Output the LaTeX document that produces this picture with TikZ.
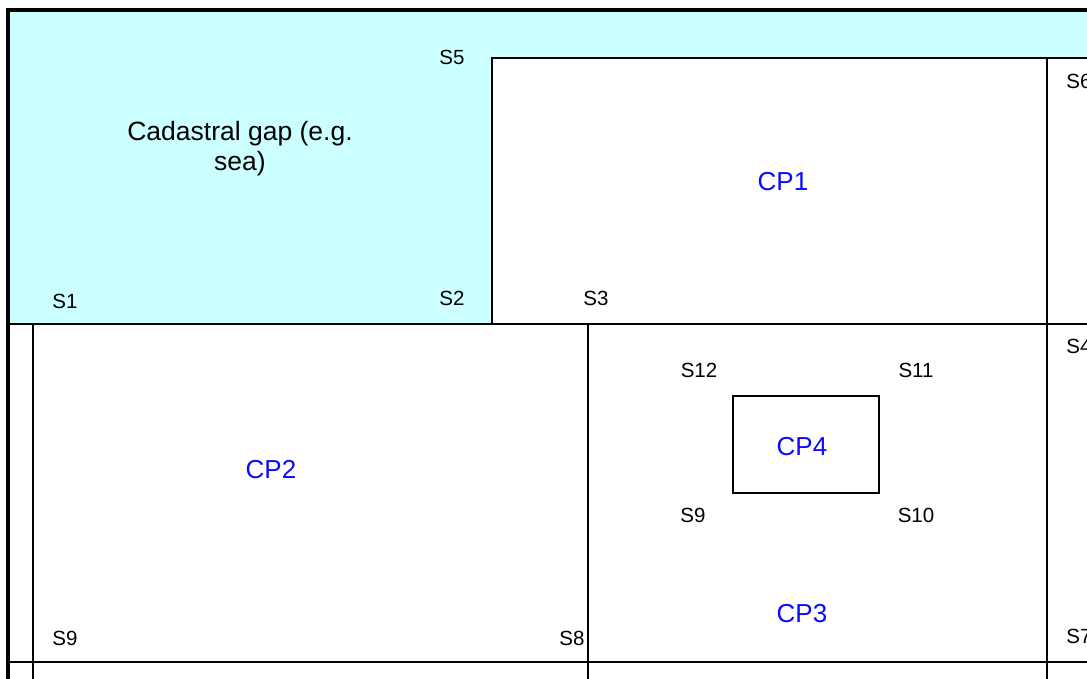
\documentclass[tikz,border=0pt]{standalone}
\usepackage{fontspec}
\setmainfont{Liberation Sans}
\usetikzlibrary{positioning}
\definecolor{gapcyan}{RGB}{204,255,255}
\definecolor{cpblue}{RGB}{10,10,255}

\begin{document}
\begin{tikzpicture}[x=1pt, y=-1pt, line width=2pt,
    slabel/.style={font=\fontsize{20.5}{24}\selectfont, inner sep=0pt},
    cplabel/.style={font=\fontsize{26}{30}\selectfont, text=cpblue, inner sep=0pt}]
    \useasboundingbox (0,0) rectangle (1087,679);
    \clip (0,0) rectangle (1087,679);
    % 地籍空隙(海),青色
    \fill[gapcyan] (10,12) -- (1087,12) -- (1087,58) -- (492,58) -- (492,324) -- (10,324) -- cycle;
    % 外框
    \draw[line width=4pt] (8,679) -- (8,10) -- (1087,10);
    % 地块边界
    \draw[line width=1.6pt] (492,324) -- (492,58) -- (1087,58);
    \draw (10,324) -- (1087,324);
    \draw (10,662) -- (1087,662);
    \draw (33,324) -- (33,679);
    \draw (588,324) -- (588,679);
    \draw (1047,58) -- (1047,679);
    % 内部地块 CP4
    \draw (733,396) rectangle (879,493);
    % 界址点
    \foreach \lab/\nm/\x/\y in {S5/s5/452/57, S1/s1/65/301, S2/s2/452/298, S3/s3/596/298,
        S6/s6/1079/81, S4/s4/1079/346, S12/s12/699/370, S11/s11/916/370,
        S9/s9in/693/515, S10/s10/916/515, S9/s9/65/638, S8/s8/572/638, S7/s7/1079/636} {
        \node[slabel] (\nm) at (\x,\y) {\lab};
    }
    % 地块编号
    \node[cplabel] (cp1) at (783,182) {CP1};
    \node[cplabel] (cp2) at (271,470) {CP2};
    \node[cplabel] (cp3) at (802,614) {CP3};
    \node[cplabel] (cp4) at (802,447) {CP4};
    \node[font=\fontsize{26.5}{30}\selectfont, align=center, inner sep=0pt] (gap) at (240,149) {Cadastral gap (e.g.\\sea)};
\end{tikzpicture}
\end{document}
